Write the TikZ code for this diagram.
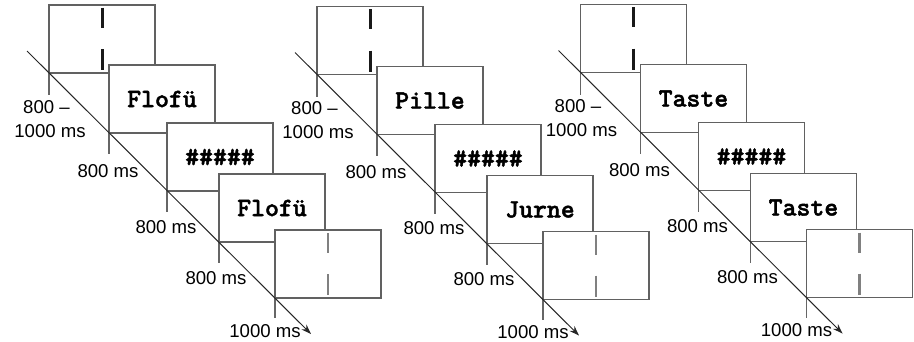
\documentclass[tikz,border=0pt]{standalone}
\usepackage{fontspec}
\setmainfont{Liberation Sans}
\newfontfamily\stimfont[FakeBold=1.6]{lmmonolt10-bold.otf}
\usetikzlibrary{arrows.meta}
\begin{document}
\begin{tikzpicture}[x=1pt,y=-1pt,
  screen/.style={draw=black!62,line width=1.1pt,fill=white,minimum width=106pt,
    minimum height=68pt,inner sep=0pt,outer sep=0pt,anchor=south west},
  word/.style={font=\stimfont\fontsize{26.5}{27}\selectfont},
  tickmark/.style={draw=black!60,line width=1.4pt},
  timeline/.style={draw=black!85,line width=1pt,-{Stealth[length=10pt,width=7pt]}},
  dur/.style={font=\fontsize{18.6}{20}\selectfont,anchor=base,inner sep=0pt},
  fixbar/.style={draw=black!90,line width=3pt},
  fixbargray/.style={draw=black!50,line width=2.6pt},
]
\useasboundingbox (0,0) rectangle (914,341);

\foreach \px/\py/\name/\wa/\wb in {0/0/a/Flofü/Flofü, 268/1.5/b/Pille/Jurne, 531.5/-0.5/c/Taste/Taste} {
  \begin{scope}[shift={(\px,\py)}]
    % fixation screen
    \node[screen] (\name1) at (49,73) {};
    \draw[fixbar] ([yshift=-2.5pt]\name1.north) -- ([yshift=-22.5pt]\name1.north);
    \draw[fixbar] ([yshift=-44pt]\name1.north) -- ([yshift=-65pt]\name1.north);
    \draw[tickmark] (\name1.south west) -- ++(0,22);
    % first word
    \node[screen,word] (\name2) at (109,133) {\wa};
    \draw[tickmark] (\name2.south west) -- ++(0,21);
    % mask
    \node[screen,word] (\name3) at (167,191) {\#\#\#\#\#};
    \draw[tickmark] (\name3.south west) -- ++(0,21);
    % second word
    \node[screen,word] (\name4) at (219,242) {\wb};
    \draw[tickmark] (\name4.south west) -- ++(0,21);
    % final fixation screen
    \node[screen] (\name5) at (275,298) {};
    \draw[fixbargray] ([yshift=-3pt]\name5.north) -- ([yshift=-23pt]\name5.north);
    \draw[fixbargray] ([yshift=-44pt]\name5.north) -- ([yshift=-65pt]\name5.north);
    \draw[tickmark] (\name5.south west) -- ++(0,20);
    % time axis
    \coordinate (\name s) at (27,51);
    \coordinate (\name e) at (311,334);
    \draw[timeline] (\name s) -- (\name e);
    % durations
    \node[dur] (\name d1a) at (46.5,113) {800 --};
    \node[dur] (\name d1b) at (50,137) {1000 ms};
    \node[dur] (\name d2) at (108,177) {800 ms};
    \node[dur] (\name d3) at (166,233) {800 ms};
    \node[dur] (\name d4) at (216,284) {800 ms};
    \node[dur] (\name d5) at (265,337) {1000 ms};
  \end{scope}
}
\end{tikzpicture}
\end{document}
